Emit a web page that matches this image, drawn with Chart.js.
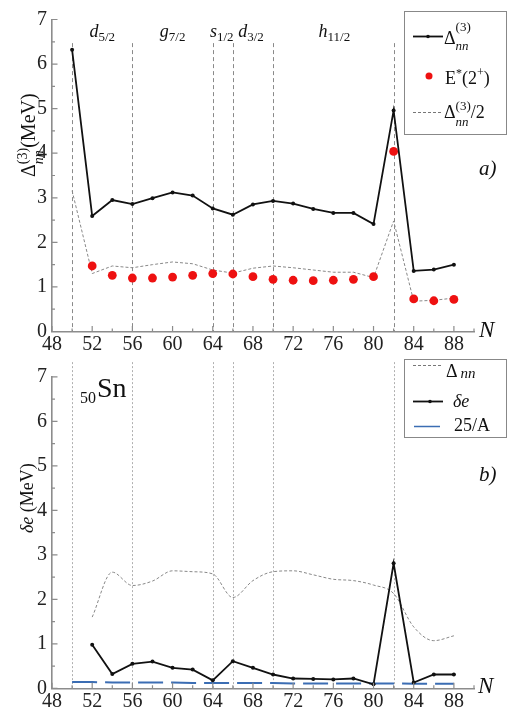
<!DOCTYPE html>
<html><head><meta charset="utf-8">
<script src="https://cdn.jsdelivr.net/npm/chart.js@4.4.0/dist/chart.umd.min.js"></script>
<style>
html,body{margin:0;padding:0;background:#fff;}
#wrap{position:relative;width:508px;height:715px;overflow:hidden;}
canvas{position:absolute;left:0;}
#c1{top:0;} #c2{top:357px;}
</style></head><body>
<div id="wrap">
<canvas id="c1" width="508" height="357"></canvas>
<canvas id="c2" width="508" height="358"></canvas>
</div>
<script>
// ---------- DATA ----------
const xTicks = [48,52,56,60,64,68,72,76,80,84,88];
const xMinorTicks = [50,54,58,62,66,70,74,78,82,86,90];
const yTicks = [0,1,2,3,4,5,6,7];
const yMinorTicks = [0.5,1.5,2.5,3.5,4.5,5.5,6.5];

// panel a)
const N_a = [50,52,54,56,58,60,62,64,66,68,70,72,74,76,78,80,82,84,86,88];
const delta3 = [6.32,2.59,2.95,2.86,2.99,3.12,3.05,2.76,2.62,2.85,2.93,2.87,2.75,2.66,2.66,2.41,4.96,1.36,1.39,1.50];
const halfDelta3 = [3.16,1.30,1.47,1.43,1.50,1.56,1.52,1.38,1.31,1.42,1.47,1.43,1.38,1.33,1.33,1.21,2.48,0.68,0.70,0.75];
const N_e2 = [52,54,56,58,60,62,64,66,68,70,72,74,76,78,80,82,84,86,88];
const e2plus = [1.47,1.26,1.20,1.20,1.22,1.26,1.30,1.29,1.23,1.17,1.15,1.14,1.15,1.17,1.23,4.04,0.73,0.69,0.72];

// panel b)
const N_b = [52,54,56,58,60,62,64,66,68,70,72,74,76,78,80,82,84,86,88];
const deltaNN = [1.60,2.61,2.31,2.41,2.64,2.62,2.57,2.04,2.42,2.62,2.64,2.55,2.45,2.42,2.32,2.13,1.38,1.07,1.18];
const deltaE = [0.98,0.32,0.55,0.60,0.46,0.42,0.18,0.61,0.46,0.31,0.22,0.21,0.20,0.22,0.09,2.81,0.13,0.31,0.31];
const N_c = [50,52,54,56,58,60,62,64,66,68,70,72,74,76,78,80,82,84,86,88];
const inv25A = [0.14,0.14,0.13,0.13,0.13,0.13,0.12,0.12,0.12,0.12,0.12,0.11,0.11,0.11,0.11,0.11,0.11,0.10,0.10,0.10];

// shell closures / subshells
const shellLines = [50,56,64,66,70,82];
const shellNames = ['d','g','s','d','h'];
const shellSubs = ['5/2','7/2','1/2','3/2','11/2'];
const shellLabelN = [53,60,64.9,67.8,76.1];

// ---------- HELPERS ----------
const SERIF = "'Liberation Serif','Times New Roman',Times,serif";
const AX = '#8c8c8c';
function fnt(s,i){return (i?'italic ':'')+s+'px '+SERIF;}
function pts(xs,ys){return xs.map((x,k)=>({x:x,y:ys[k]}));}
function rich(ctx,x,y,parts){
  let cx=x;
  ctx.textBaseline='alphabetic'; ctx.textAlign='left';
  for(const p of parts){
    if(p.sup!==undefined){
      ctx.font=fnt(p.s,false); ctx.fillText(p.sup,cx,y+p.supDy);
      const w1=ctx.measureText(p.sup).width;
      ctx.font=fnt(p.s,true); ctx.fillText(p.sub,cx+(p.subDx||0),y+p.subDy);
      const w2=ctx.measureText(p.sub).width+(p.subDx||0);
      cx+=Math.max(w1,w2);
    } else {
      ctx.font=fnt(p.s,p.i); ctx.fillText(p.t,cx+(p.dx||0),y+(p.dy||0));
      cx+=ctx.measureText(p.t).width+(p.dx||0);
    }
  }
  return cx;
}
function mkScales(xh){
  return {
    x:{type:'linear',min:48,max:90,
      afterBuildTicks:s=>{s.ticks=xTicks.map(v=>({value:v}));},
      afterFit:s=>{s.height=xh;},
      grid:{display:false,drawTicks:false},
      border:{display:true,color:AX,width:1.6},
      ticks:{font:{family:SERIF,size:20},color:'#222',padding:1,maxRotation:0,autoSkip:false}},
    y:{type:'linear',min:0,max:7,
      afterBuildTicks:s=>{s.ticks=yTicks.map(v=>({value:v}));},
      afterFit:s=>{s.width=52;},
      grid:{display:false,drawTicks:false},
      border:{display:true,color:AX,width:1.6},
      ticks:{font:{family:SERIF,size:20},color:'#222',padding:5}}
  };
}
function drawTicks(chart){
  const ctx=chart.ctx, xs=chart.scales.x, ys=chart.scales.y, a=chart.chartArea;
  ctx.save(); ctx.strokeStyle=AX; ctx.lineWidth=1.2;
  ctx.beginPath();
  yTicks.forEach(v=>{const p=ys.getPixelForValue(v); ctx.moveTo(a.left,p); ctx.lineTo(a.left+5.5,p);});
  yMinorTicks.forEach(v=>{const p=ys.getPixelForValue(v); ctx.moveTo(a.left,p); ctx.lineTo(a.left+3,p);});
  xTicks.forEach(v=>{const p=xs.getPixelForValue(v); ctx.moveTo(p,a.bottom); ctx.lineTo(p,a.bottom-5.5);});
  xMinorTicks.forEach(v=>{const p=xs.getPixelForValue(v); ctx.moveTo(p,a.bottom); ctx.lineTo(p,a.bottom-3);});
  ctx.stroke(); ctx.restore();
}
function drawShellLines(chart,yTop,color,dash){
  const ctx=chart.ctx, xs=chart.scales.x, ys=chart.scales.y, a=chart.chartArea;
  ctx.save(); ctx.strokeStyle=color; ctx.lineWidth=1; ctx.setLineDash(dash);
  shellLines.forEach(n=>{const p=Math.round(xs.getPixelForValue(n))+0.5;
    ctx.beginPath(); ctx.moveTo(p,ys.getPixelForValue(yTop)); ctx.lineTo(p,a.bottom); ctx.stroke();});
  ctx.restore();
}

// ---------- PANEL A ----------
const plugA={id:'decoA',
  beforeDatasetsDraw(chart){ drawShellLines(chart,6.47,'#8a8a8a',[4,3]); },
  afterDraw(chart){
    const ctx=chart.ctx, xs=chart.scales.x;
    drawTicks(chart);
    ctx.save(); ctx.fillStyle='#111';
    // shell labels
    shellNames.forEach((nm,k)=>{
      ctx.font=fnt(18,true); const w1=ctx.measureText(nm).width;
      ctx.font=fnt(13,false); const w2=ctx.measureText(shellSubs[k]).width;
      const cx=xs.getPixelForValue(shellLabelN[k])-(w1+w2)/2;
      rich(ctx,cx,36.5,[{t:nm,s:18,i:true},{t:shellSubs[k],s:13,dy:4.5}]);
    });
    // y title
    ctx.save(); ctx.translate(35,177); ctx.rotate(-Math.PI/2);
    rich(ctx,0,0,[{t:'Δ',s:20},{sup:'(3)',sub:'nn',s:14,supDy:-8,subDy:8},{t:'(MeV)',s:20}]);
    ctx.restore();
    // legend
    ctx.strokeStyle='#888'; ctx.lineWidth=1; ctx.strokeRect(404.5,11.5,102,123);
    ctx.strokeStyle='#111'; ctx.lineWidth=1.8; ctx.beginPath(); ctx.moveTo(413,36.5); ctx.lineTo(443,36.5); ctx.stroke();
    ctx.beginPath(); ctx.arc(428,36.5,1.8,0,Math.PI*2); ctx.fill();
    rich(ctx,444,44,[{t:'Δ',s:18},{sup:'(3)',sub:'nn',s:13,supDy:-13,subDy:6}]);
    ctx.fillStyle='#ee1111'; ctx.beginPath(); ctx.arc(429,76,3.5,0,Math.PI*2); ctx.fill();
    ctx.fillStyle='#111';
    rich(ctx,445,84,[{t:'E',s:18},{t:'*',s:12,dy:-7},{t:'(2',s:18},{t:'+',s:12,dy:-8},{t:')',s:18}]);
    ctx.strokeStyle='#777'; ctx.lineWidth=1; ctx.setLineDash([3,2]);
    ctx.beginPath(); ctx.moveTo(413,112.5); ctx.lineTo(443,112.5); ctx.stroke(); ctx.setLineDash([]);
    rich(ctx,444,118,[{t:'Δ',s:18},{sup:'(3)',sub:'nn',s:13,supDy:-8,subDy:8},{t:'/2',s:18}]);
    // a) and N
    ctx.font=fnt(21,true); ctx.fillText('a)',479,175);
    ctx.font=fnt(23,true); ctx.fillText('N',479,337);
    ctx.restore();
  }};

new Chart(document.getElementById('c1'),{
  type:'scatter',
  data:{datasets:[
    {label:'Δnn(3)',data:pts(N_a,delta3),showLine:true,borderColor:'#111',borderWidth:1.8,
     pointRadius:2,pointBackgroundColor:'#111',pointBorderWidth:0,order:1},
    {label:'E*(2+)',data:pts(N_e2,e2plus),showLine:false,pointRadius:4.4,
     pointBackgroundColor:'#ee1111',pointBorderWidth:0,order:2},
    {label:'Δnn(3)/2',data:pts(N_a,halfDelta3),showLine:true,borderColor:'#888',borderWidth:1,
     borderDash:[3,2],pointRadius:0,order:3}
  ]},
  options:{responsive:false,animation:false,devicePixelRatio:1,
    layout:{padding:{left:0,right:34,top:19.5,bottom:0}},
    plugins:{legend:{display:false},tooltip:{enabled:false}},
    scales:mkScales(25.5)},
  plugins:[plugA]
});

// ---------- PANEL B ----------
const plugB={id:'decoB',
  beforeDatasetsDraw(chart){ drawShellLines(chart,7.33,'#b0b0b0',[2,2]); },
  afterDraw(chart){
    const ctx=chart.ctx;
    drawTicks(chart);
    ctx.save(); ctx.fillStyle='#111';
    // y title
    ctx.save(); ctx.translate(33,533-357); ctx.rotate(-Math.PI/2);
    rich(ctx,0,0,[{t:'δe',s:18,i:true},{t:' (MeV)',s:18}]);
    ctx.restore();
    // 50Sn
    rich(ctx,80,403-357,[{t:'50',s:16}]);
    rich(ctx,97,397-357,[{t:'Sn',s:28}]);
    // legend
    const o=357;
    ctx.strokeStyle='#888'; ctx.lineWidth=1; ctx.strokeRect(404.5,359.5-o,102,78);
    ctx.strokeStyle='#777'; ctx.setLineDash([3,2]);
    ctx.beginPath(); ctx.moveTo(413,365.5-o); ctx.lineTo(443,365.5-o); ctx.stroke(); ctx.setLineDash([]);
    rich(ctx,446,377-o,[{t:'Δ',s:18},{t:'nn',s:15,i:true,dx:3,dy:1}]);
    ctx.strokeStyle='#111'; ctx.lineWidth=1.8;
    ctx.beginPath(); ctx.moveTo(413,401.5-o); ctx.lineTo(443,401.5-o); ctx.stroke();
    ctx.beginPath(); ctx.arc(430,401.5-o,1.8,0,Math.PI*2); ctx.fill();
    rich(ctx,453,407-o,[{t:'δe',s:18,i:true}]);
    ctx.strokeStyle='#3b6db3'; ctx.lineWidth=1.5;
    ctx.beginPath(); ctx.moveTo(414,426.5-o); ctx.lineTo(440,426.5-o); ctx.stroke();
    rich(ctx,454,431-o,[{t:'25/A',s:18}]);
    ctx.font=fnt(21,true); ctx.fillText('b)',479,481-o);
    ctx.font=fnt(23,true); ctx.fillText('N',478,693-o);
    ctx.restore();
  }};

new Chart(document.getElementById('c2'),{
  type:'scatter',
  data:{datasets:[
    {label:'Δnn',data:pts(N_b,deltaNN),showLine:true,borderColor:'#888',borderWidth:1,
     borderDash:[3,2],pointRadius:0,cubicInterpolationMode:'monotone',order:3},
    {label:'δe',data:pts(N_b,deltaE),showLine:true,borderColor:'#111',borderWidth:1.8,
     pointRadius:2,pointBackgroundColor:'#111',pointBorderWidth:0,order:1},
    {label:'25/A',data:pts(N_c,inv25A),showLine:true,borderColor:'#3b6db3',borderWidth:2,
     borderDash:[25,8],pointRadius:0,order:2}
  ]},
  options:{responsive:false,animation:false,devicePixelRatio:1,
    layout:{padding:{left:0,right:34,top:19.8,bottom:0}},
    plugins:{legend:{display:false},tooltip:{enabled:false}},
    scales:mkScales(26.7)},
  plugins:[plugB]
});
</script>
</body></html>
